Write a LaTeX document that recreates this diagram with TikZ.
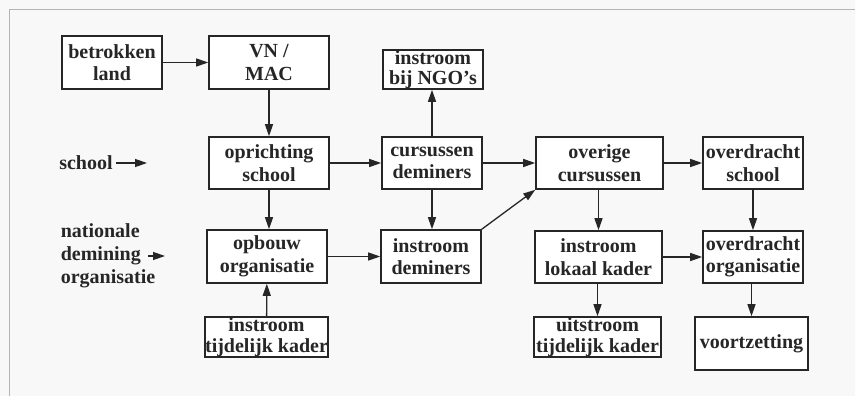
\documentclass[tikz,border=0pt]{standalone}
\usepackage{fontspec}
\setmainfont{Liberation Serif}
\usetikzlibrary{arrows.meta}
\definecolor{ink}{HTML}{262626}
\definecolor{paper}{HTML}{F8F8F8}
\definecolor{frame}{HTML}{B4B4B4}

\begin{document}
\begin{tikzpicture}[x=1pt, y=-1pt,
  box/.style={rectangle, draw=ink, line width=1.6pt, fill=white, align=center, inner sep=0pt,
    font=\fontsize{20}{22.5}\selectfont\bfseries, text=ink},
  smallbox/.style={box, font=\fontsize{20}{20.5}\selectfont\bfseries},
  lbl/.style={align=left, inner sep=0pt, font=\fontsize{20}{23}\selectfont\bfseries, text=ink},
  link/.style={-{Triangle[length=12pt, width=8pt]}, line width=1.3pt, draw=ink}
]
\useasboundingbox (0,0) rectangle (855,396);
\fill[paper] (0,0) rectangle (855,396);
\draw[frame, line width=1pt] (9,396) -- (9,10) -- (855,10);

% ===== Column 1 =====
\node[box, minimum width=100pt, minimum height=53pt] (land) at (112,62.5) {betrokken\\land};
\node[lbl] (schoollbl) at (86,163) {school};
\node[lbl] (natlbl) at (108,256) {nationale\\demining\\organisatie};
\coordinate (schoolend) at (147,163);
\coordinate (natstart) at (148,256);
\coordinate (natend) at (165,256);

% ===== Column 2 =====
\node[box, minimum width=120pt, minimum height=53pt] (vnmac) at (269,62.5) {VN /\\MAC};
\node[box, minimum width=120pt, minimum height=52pt] (oprichting) at (269,163) {oprichting\\school};
\node[box, minimum width=120pt, minimum height=53pt] (opbouw) at (267,256.5) {opbouw\\organisatie};
\node[smallbox, minimum width=121pt, minimum height=40pt] (insttijd) at (266.5,337) {instroom\\tijdelijk kader};

% ===== Column 3 =====
\node[smallbox, minimum width=100pt, minimum height=39pt] (ngo) at (433,69.5) {instroom\\bij NGO's};
\node[box, minimum width=100pt, minimum height=52pt] (cursus) at (432,163) {cursussen\\deminers};
\node[box, minimum width=100pt, minimum height=53pt] (instdem) at (431,256.5) {instroom\\deminers};

% ===== Column 4 =====
\node[box, minimum width=127pt, minimum height=52pt] (overige) at (599.5,163) {overige\\cursussen};
\node[box, minimum width=127pt, minimum height=52pt] (lokaal) at (598.5,257) {instroom\\lokaal kader};
\node[smallbox, minimum width=127pt, minimum height=40pt] (uittijd) at (597.5,337) {uitstroom\\tijdelijk kader};

% ===== Column 5 =====
\node[box, minimum width=100pt, minimum height=52pt] (ovschool) at (753,163) {overdracht\\school};
\node[box, minimum width=100pt, minimum height=52pt] (ovorg) at (753,257) {overdracht\\organisatie};
\node[box, minimum width=113pt, minimum height=53pt] (voort) at (751.5,343.5) {voortzetting};

% ===== Links =====
\draw[link] (land) -- (vnmac);
\draw[link] (vnmac) -- (oprichting);
\draw[link] (schoollbl.east) ++(3,0) -- (schoolend);
\draw[link] (natstart) -- (natend);
\draw[link] (oprichting) -- (cursus);
\draw[link] (oprichting.south) -- (oprichting.south |- opbouw.north);
\draw[link] (insttijd) -- (opbouw);
\draw[link] (opbouw.east) -- (opbouw.east -| instdem.west);
\draw[link] (cursus.north) -- (cursus.north |- ngo.south);
\draw[link] (cursus.south) -- (cursus.south |- instdem.north);
\draw[link] (cursus) -- (overige);
\draw[link] (instdem.north east) -- (overige.south west);
\draw[link] (overige.south -| lokaal.north) -- (lokaal.north);
\draw[link] (overige) -- (ovschool);
\draw[link] (lokaal.south -| uittijd.north) -- (uittijd.north);
\draw[link] (lokaal.east) -- (lokaal.east -| ovorg.west);
\draw[link] (ovschool) -- (ovorg);
\draw[link] (ovorg.south -| voort.north) -- (voort.north);

\end{tikzpicture}
\end{document}
